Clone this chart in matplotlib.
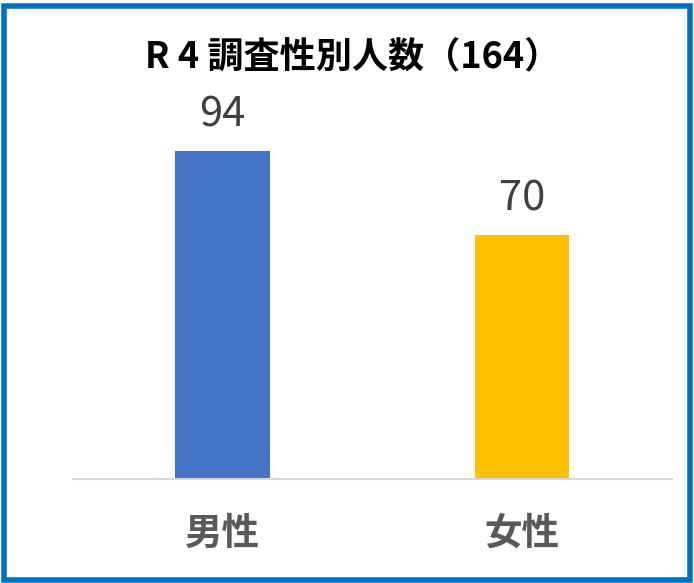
import matplotlib
matplotlib.use("Agg")
import matplotlib.pyplot as plt
import matplotlib.transforms as mtransforms
from matplotlib.patches import Rectangle

plt.rcParams['font.family'] = ['Noto Sans CJK JP', 'DejaVu Sans']

categories = ['男性', '女性']
values = [94, 70]
colors = ['#4472C4', '#FFC000']
title = 'R 4 調査性別人数（164）'

fig = plt.figure(figsize=(6.94, 5.83), dpi=100)
ax = fig.add_axes([0.105, 0.178, 0.863, 0.599])
x = list(range(len(categories)))
bars = ax.bar(x, values, width=0.315, color=colors)
ax.set_xlim(-0.5, 1.5)
ax.set_ylim(0, 100)
for xi, v in zip(x, values):
    ax.text(xi, v + 7, str(v), ha='center', va='baseline', fontsize=30, color='#404040')
ax.set_yticks([])
ax.set_xticks([])
trans = mtransforms.blended_transform_factory(ax.transData, fig.transFigure)
for xi, c in zip(x, categories):
    ax.text(xi, 0.085, c, transform=trans, ha='center', va='center',
            fontsize=27, fontweight='bold', color='#595959')
for s in ['top', 'right', 'left']:
    ax.spines[s].set_visible(False)
ax.spines['bottom'].set_color('#D9D9D9')
ax.spines['bottom'].set_linewidth(1.5)

fig.text(0.508, 0.902, title, ha='center', va='center', fontsize=26, fontweight='bold', color='#000000')

fig.patches.append(Rectangle((0.006, 0.006), 0.988, 0.983, transform=fig.transFigure,
                             fill=False, edgecolor='#0070C0', linewidth=4))

fig.savefig('out.png', dpi=100)
